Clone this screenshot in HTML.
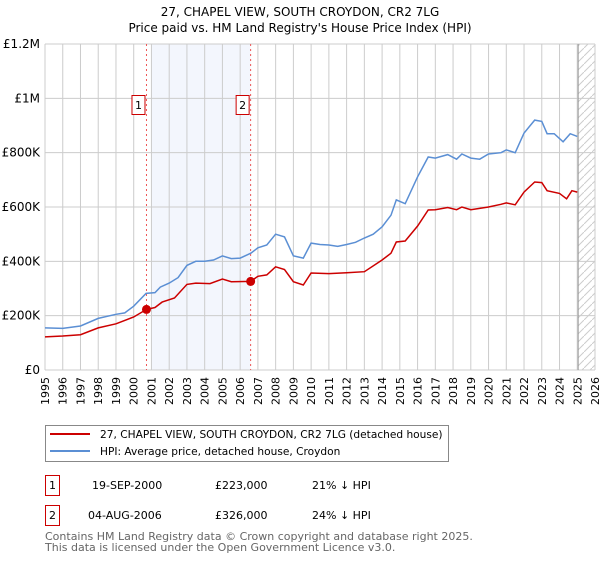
<!DOCTYPE html>
<html><head><meta charset="utf-8"><style>
body{margin:0;background:#fff;font-family:"DejaVu Sans","Liberation Sans",sans-serif;}
svg text{font-family:"DejaVu Sans","Liberation Sans",sans-serif;}
</style></head><body>
<svg id="chart" width="600" height="560" viewBox="0 0 600 560" xmlns="http://www.w3.org/2000/svg">
<defs><pattern id="hatch" width="8" height="8" patternUnits="userSpaceOnUse"><path d="M0,8 L8,0" stroke="#ccc" stroke-width="1"/></pattern></defs>
<text x="300" y="16" text-anchor="middle" font-size="12">27, CHAPEL VIEW, SOUTH CROYDON, CR2 7LG</text>
<text x="300" y="32" text-anchor="middle" font-size="12">Price paid vs. HM Land Registry's House Price Index (HPI)</text>
<g id="plot"></g>
<g>
<rect x="45.5" y="425.5" width="403" height="36" fill="#fff" stroke="#888"/>
<line x1="50" y1="434" x2="90" y2="434" stroke="#cc0000" stroke-width="2"/>
<text x="100" y="438" font-size="10.6">27, CHAPEL VIEW, SOUTH CROYDON, CR2 7LG (detached house)</text>
<line x1="50" y1="451" x2="90" y2="451" stroke="#5b8fd4" stroke-width="2"/>
<text x="100" y="455" font-size="10.6">HPI: Average price, detached house, Croydon</text>
</g>
<g font-size="11">
<rect x="45.5" y="475.5" width="14" height="20" fill="#fff" stroke="#cc0000"/>
<text x="52.5" y="489" text-anchor="middle">1</text>
<text x="92" y="489">19-SEP-2000</text><text x="215" y="489">£223,000</text><text x="312" y="489">21% ↓ HPI</text>
</g>
<g font-size="11">
<rect x="45.5" y="505.5" width="14" height="20" fill="#fff" stroke="#cc0000"/>
<text x="52.5" y="519" text-anchor="middle">2</text>
<text x="88" y="519">04-AUG-2006</text><text x="215" y="519">£326,000</text><text x="312" y="519">24% ↓ HPI</text>
</g>
<text x="45" y="540" font-size="11" fill="#666">Contains HM Land Registry data © Crown copyright and database right 2025.</text>
<text x="45" y="551" font-size="11" fill="#666">This data is licensed under the Open Government Licence v3.0.</text>
</svg>
<script>
const yTicks=[0,200000,400000,600000,800000,1000000,1200000];
const yTickLabels=["£0","£200K","£400K","£600K","£800K","£1M","£1.2M"];
const xYears=[1995,1996,1997,1998,1999,2000,2001,2002,2003,2004,2005,2006,2007,2008,2009,2010,2011,2012,2013,2014,2015,2016,2017,2018,2019,2020,2021,2022,2023,2024,2025,2026];
const hpiT=[1995,1996,1997,1998,1999,1999.5,2000,2000.7,2001.2,2001.5,2002,2002.5,2003,2003.5,2004,2004.5,2005,2005.5,2006,2006.6,2007,2007.5,2008,2008.5,2009,2009.56,2010,2010.5,2011,2011.5,2012,2012.5,2013,2013.5,2014,2014.5,2014.8,2015.3,2016,2016.6,2017,2017.7,2018.2,2018.5,2019,2019.5,2020,2020.7,2021,2021.5,2022,2022.6,2023,2023.3,2023.7,2024.2,2024.6,2025];
const hpiV=[155,153,162,190,205,210,235,282,285,305,320,340,385,400,400,405,420,410,412,430,450,460,500,490,420,412,467,462,460,455,462,470,486,500,527,570,626,612,711,784,780,793,776,795,780,776,795,800,810,800,872,920,915,870,870,840,870,860];
const saleT=[1995,1996,1997,1998,1999,2000,2000.72,2001.2,2001.6,2002.3,2003,2003.5,2004.3,2005,2005.5,2006.59,2007,2007.5,2008,2008.5,2009,2009.56,2010,2011,2012,2013,2014,2014.5,2014.8,2015.3,2016,2016.6,2017,2017.7,2018.2,2018.5,2019,2020,2020.7,2021,2021.5,2022,2022.6,2023,2023.3,2024,2024.4,2024.7,2025];
const saleV=[122,125,130,155,170,195,223,230,250,265,315,320,318,335,325,326,345,350,380,370,325,313,357,355,358,362,405,430,471,475,530,589,590,598,590,600,590,600,610,615,608,655,692,690,660,650,630,660,655];
const salesT=[2000.72,2006.59];
const salesV=[223000,326000];
const salesLabel=["1","2"];
const X0=45,X1=595,Y0=370,Y1=44;
const xs=t=>X0+(t-1995)/(2026-1995)*(X1-X0);
const ys=v=>Y0-v/1200000*(Y0-Y1);
const NS="http://www.w3.org/2000/svg";
const g=document.getElementById('plot');
function mk(tag,attrs){const e=document.createElementNS(NS,tag);for(const k in attrs)e.setAttribute(k,attrs[k]);g.appendChild(e);return e;}
let r=mk('rect',{x:xs(2001),y:Y1,width:xs(salesT[1])-xs(2001),height:Y0-Y1,fill:'#f3f6fd'});


xYears.forEach(yr=>{const l=mk('line',{x1:xs(yr),x2:xs(yr),y1:Y1,y2:Y0,stroke:'#ccc'});


const t=mk('text',{x:0,y:0,'font-size':11,'text-anchor':'end',transform:`translate(${xs(yr)+4},${Y0+7}) rotate(-90)`});
t.textContent=yr;

});
yTicks.forEach((v,i)=>{const l=mk('line',{x1:X0,x2:X1,y1:ys(v),y2:ys(v),stroke:'#ccc'});


const t=mk('text',{x:X0-5,y:ys(v)+4,'font-size':12,'text-anchor':'end'});
t.textContent=yTickLabels[i];

});
let h=mk('rect',{x:xs(2025.05),y:Y1,width:X1-xs(2025.05),height:Y0-Y1,fill:'url(#hatch)'});


let hl=mk('line',{x1:xs(2025.05),x2:xs(2025.05),y1:Y1,y2:Y0,stroke:'#999'});


salesT.forEach((t,i)=>{const l=mk('line',{x1:xs(t),x2:xs(t),y1:Y1,y2:Y0,stroke:'#e55','stroke-dasharray':'2,3'});

});
const path=(T,V)=>T.map((t,i)=>(i?'L':'M')+xs(t).toFixed(1)+','+ys(V[i]*1000).toFixed(1)).join('');
let p1=mk('path',{d:path(hpiT,hpiV),fill:'none',stroke:'#5b8fd4','stroke-width':1.5});


let p2=mk('path',{d:path(saleT,saleV),fill:'none',stroke:'#cc0000','stroke-width':1.5});


salesT.forEach((t,i)=>{const c=mk('circle',{cx:xs(t),cy:ys(salesV[i]),r:4.5,fill:'#cc0000'});


const b=mk('rect',{x:xs(t)-14.5,y:95.5,width:13,height:19,fill:'#fff',stroke:'#cc0000'});


const tx=mk('text',{x:xs(t)-8,y:109,'font-size':11,'text-anchor':'middle'});
tx.textContent=salesLabel[i];

});
</script>
</body></html>
